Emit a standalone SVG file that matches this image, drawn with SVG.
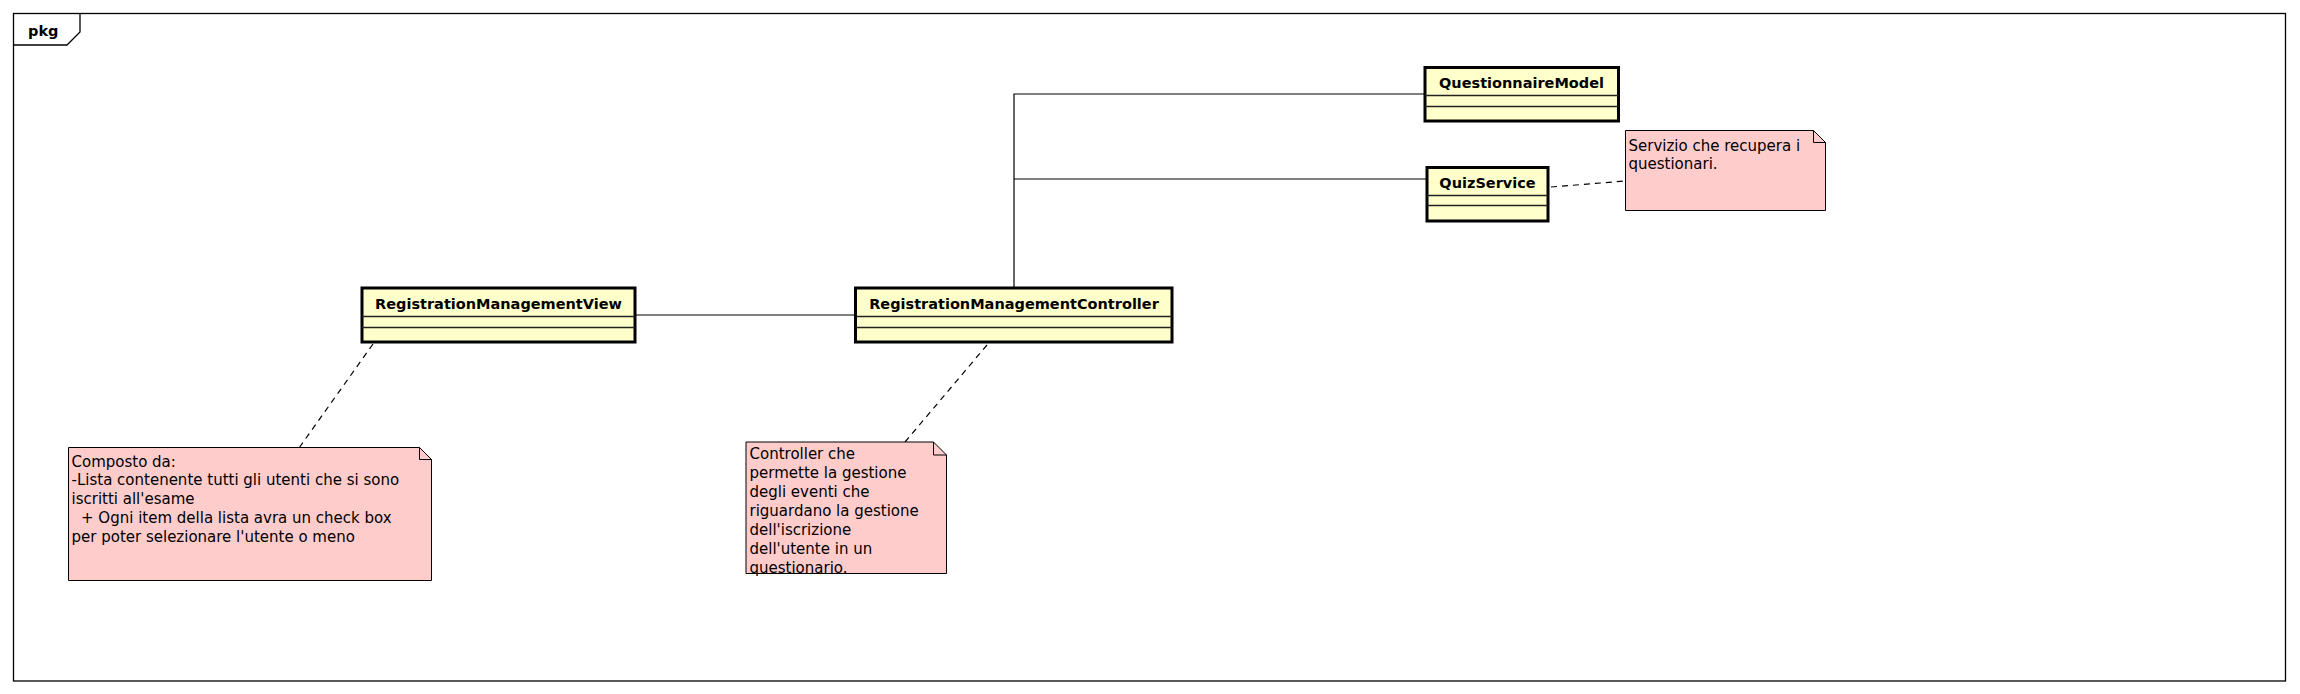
<svg xmlns="http://www.w3.org/2000/svg" width="2300" height="694" viewBox="0 0 2300 694">
<style>
.frame{fill:#ffffff;stroke:#000;stroke-width:1.3}
.tab{fill:none;stroke:#000;stroke-width:1.3}
.cls{fill:#ffffcc;stroke:#000;stroke-width:3}
.sep{stroke:#222;stroke-width:1.3}
.title{font-family:"DejaVu Sans",sans-serif;font-weight:bold;font-size:14.5px;fill:#000;text-anchor:middle}
.pkg{font-family:"DejaVu Sans",sans-serif;font-weight:bold;font-size:14.5px;fill:#000}
.note{fill:#ffcccc;stroke:#000;stroke-width:1}
.fold{fill:none;stroke:#000;stroke-width:1}
.ntext{font-family:"DejaVu Sans",sans-serif;font-size:15px;fill:#000}
.assoc{fill:none;stroke:#000;stroke-width:1.2}
.anchor{fill:none;stroke:#000;stroke-width:1.2;stroke-dasharray:6 5}
</style>
<rect width="2300" height="694" fill="#ffffff"/>
<g id="frame">
<rect class="frame" x="13.5" y="13.5" width="2272" height="667.5"/>
<path class="tab" d="M13.5 45 H67 L80 32 V13.5"/>
<text class="pkg" x="28" y="36">pkg</text>
</g>
<g id="connectors">
<path class="assoc" d="M636 315 H854"/>
<path class="assoc" d="M1014 287 V94 H1424"/>
<path class="assoc" d="M1014 179 H1426"/>
<path class="anchor" d="M373 344 L299 448"/>
<path class="anchor" d="M987 345 L905 442"/>
<path class="anchor" d="M1551 187 L1625.5 181"/>
</g>
<g id="RegistrationManagementView">
<rect class="cls" x="362" y="288" width="273" height="54"/>
<line class="sep" x1="362" y1="316.5" x2="635" y2="316.5"/>
<line class="sep" x1="362" y1="327.5" x2="635" y2="327.5"/>
<text class="title" x="498.5" y="309">RegistrationManagementView</text>
</g>
<g id="RegistrationManagementController">
<rect class="cls" x="855.5" y="288" width="316.5" height="54"/>
<line class="sep" x1="855.5" y1="316.5" x2="1172" y2="316.5"/>
<line class="sep" x1="855.5" y1="327.5" x2="1172" y2="327.5"/>
<text class="title" x="1014" y="309">RegistrationManagementController</text>
</g>
<g id="QuestionnaireModel">
<rect class="cls" x="1425" y="67.5" width="193.5" height="53.5"/>
<line class="sep" x1="1425" y1="95.5" x2="1618.5" y2="95.5"/>
<line class="sep" x1="1425" y1="106.5" x2="1618.5" y2="106.5"/>
<text class="title" x="1521.5" y="88">QuestionnaireModel</text>
</g>
<g id="QuizService">
<rect class="cls" x="1427" y="167.5" width="121" height="53.5"/>
<line class="sep" x1="1427" y1="195.5" x2="1548" y2="195.5"/>
<line class="sep" x1="1427" y1="205.5" x2="1548" y2="205.5"/>
<text class="title" x="1487.5" y="188">QuizService</text>
</g>
<g id="note-view">
<path class="note" d="M68.5 447.5 H419.5 L431.5 459.5 V580.5 H68.5 Z"/>
<path class="fold" d="M419.5 447.5 V459.5 H431.5"/>
<text class="ntext" xml:space="preserve"><tspan x="71.5" y="466.5">Composto da:</tspan><tspan x="71.5" y="485.3">-Lista contenente tutti gli utenti che si sono</tspan><tspan x="71.5" y="504.1">iscritti all'esame</tspan><tspan x="71.5" y="522.9">  + Ogni item della lista avra un check box</tspan><tspan x="71.5" y="541.7">per poter selezionare l'utente o meno</tspan></text>
</g>
<g id="note-controller">
<path class="note" d="M746 442 H933.5 L946.5 455 V573.5 H746 Z"/>
<path class="fold" d="M933.5 442 V455 H946.5"/>
<text class="ntext"><tspan x="749.5" y="459.3">Controller che</tspan><tspan x="749.5" y="478.3">permette la gestione</tspan><tspan x="749.5" y="497.3">degli eventi che</tspan><tspan x="749.5" y="516.3">riguardano la gestione</tspan><tspan x="749.5" y="535.3">dell'iscrizione</tspan><tspan x="749.5" y="554.3">dell'utente in un</tspan><tspan x="749.5" y="573.3">questionario.</tspan></text>
</g>
<g id="note-quizservice">
<path class="note" d="M1625.5 130.5 H1813.5 L1825.5 142.5 V210.5 H1625.5 Z"/>
<path class="fold" d="M1813.5 130.5 V142.5 H1825.5"/>
<text class="ntext"><tspan x="1628.5" y="150.5">Servizio che recupera i</tspan><tspan x="1628.5" y="168.5">questionari.</tspan></text>
</g>
</svg>
